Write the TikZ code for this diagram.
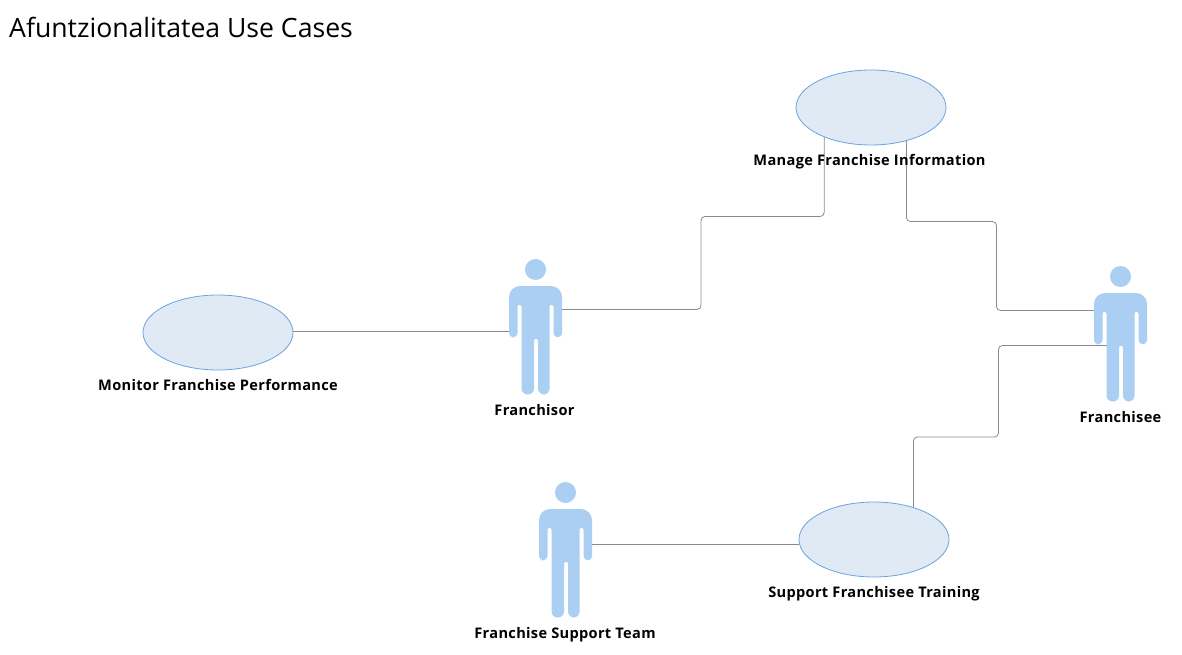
\documentclass[tikz,border=0pt]{standalone}
\usepackage{fontspec}
\setmainfont{Open Sans}
\usetikzlibrary{calc,shapes.geometric}
\definecolor{actorblue}{HTML}{ABCEF3}
\definecolor{casefill}{HTML}{E0EAF5}
\definecolor{casedraw}{HTML}{68A4E0}
\definecolor{wire}{HTML}{8A8A8A}
\tikzset{
  usecase/.style={ellipse,draw=casedraw,fill=casefill,line width=0.8pt,minimum width=150pt,minimum height=75pt,inner sep=0pt,outer sep=0pt},
  actorbox/.style={rectangle,minimum width=53pt,minimum height=135.5pt,inner sep=0pt,outer sep=0pt},
  conn/.style={draw=wire,line width=0.8pt,rounded corners=4pt},
  lbl/.style={font=\fontsize{14.6pt}{17pt}\bfseries\addfontfeature{LetterSpace=2.2}\selectfont,text=black,inner sep=0pt,anchor=base},
  titletext/.style={font=\fontsize{26.6pt}{30pt}\selectfont,text=black,inner sep=0pt,anchor=base west}
}
\newcommand{\actorfig}[1]{%
  \begin{scope}[shift={(#1.center)}]
    \fill[actorblue] (0,-57.25) circle[radius=10.5pt];
    \fill[actorblue] (-22.25,10.5) [rounded corners=4.2pt] -- (-26.5,10.5) [rounded corners=11pt] -- (-26.5,-40.75) -- (26.5,-40.75) [rounded corners=4.2pt] -- (26.5,10.5) -- (18,10.5) [rounded corners=2pt] -- (18,-22) -- (14,-22) [rounded corners=6pt] -- (14,67.75) -- (2.5,67.75) [rounded corners=2pt] -- (2.5,12) -- (-1.5,12) [rounded corners=6pt] -- (-1.5,67.75) -- (-14,67.75) [rounded corners=2pt] -- (-14,-22) -- (-18,-22) [rounded corners=4.2pt] -- (-18,10.5) -- cycle;
  \end{scope}}
\begin{document}
\begin{tikzpicture}[x=1pt,y=-1pt]
\useasboundingbox (0,0) rectangle (1182,655);
\node[titletext] (title) at (9,37.5) {Afuntzionalitatea Use Cases};
\node[usecase] (manage) at (871,107.5) {};
\node[usecase] (monitor) at (218,332.5) {};
\node[usecase] (support) at (874,539.5) {};
\node[actorbox] (franchisor) at (535.5,326.75) {};
\node[actorbox] (franchisee) at (1120.5,333.75) {};
\node[actorbox] (team) at (565.5,549.75) {};
\draw[conn] ($(monitor.east)+(0,-1)$) -- ($(franchisor.west)+(0,4.75)$);
\draw[conn] ($(franchisor.east)+(0,-17.25)$) -| ($(franchisor.east)+(139,-110.25)$) -| (manage.212.3);
\draw[conn] (manage.317.1) |- ($(franchisee.west)+(-97.5,-112.25)$) |- ($(franchisee.west)+(0,-23.25)$);
\draw[conn] ($(franchisee.west)+(13,11.75)$) -| ($(franchisee.west)+(-95.5,103.25)$) -| (support.39.6);
\draw[conn] ($(team.east)+(0,-5.25)$) -- ($(support.west)+(0,5)$);
\actorfig{franchisor}
\actorfig{franchisee}
\actorfig{team}
\node[lbl] (lmanage) at (869.5,165) {Manage Franchise Information};
\node[lbl] (lmonitor) at (218,390) {Monitor Franchise Performance};
\node[lbl] (lsupport) at (874,597) {Support Franchisee Training};
\node[lbl] (lfranchisor) at (534.5,415) {Franchisor};
\node[lbl] (lfranchisee) at (1120.5,422) {Franchisee};
\node[lbl] (lteam) at (565,638) {Franchise Support Team};
\end{tikzpicture}
\end{document}
